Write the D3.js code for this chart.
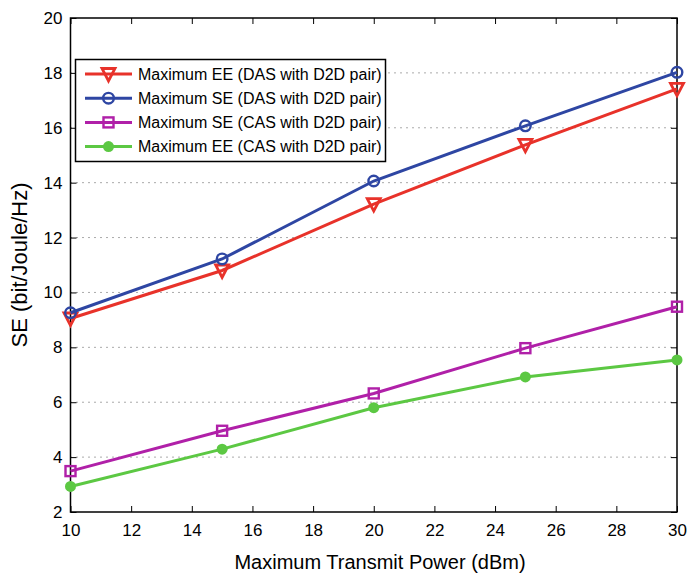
<!DOCTYPE html>
<html><head><meta charset="utf-8">
<script src="https://cdn.jsdelivr.net/npm/d3@7"></script>
<style>body{margin:0;background:#fff}svg{display:block}text{font-family:"Liberation Sans",Arial,sans-serif}</style>
</head><body><svg id="c" width="687" height="573"></svg>
<script>
const powers = [10, 15, 20, 25, 30];
const eeDAS = [9.05, 10.8, 13.22, 15.38, 17.42];
const seDAS = [9.26, 11.22, 14.06, 16.07, 18.02];
const seCAS = [3.49, 4.96, 6.32, 7.97, 9.48];
const eeCAS = [2.93, 4.29, 5.8, 6.92, 7.54];
const seriesNames = ["Maximum EE (DAS with D2D pair)","Maximum SE (DAS with D2D pair)","Maximum SE (CAS with D2D pair)","Maximum EE (CAS with D2D pair)"];
const xTicks = [10,12,14,16,18,20,22,24,26,28,30];
const yTicks = [2,4,6,8,10,12,14,16,18,20];

const series = [
  {name: seriesNames[0], vals: eeDAS, color: "#e8322a", marker: "tri"},
  {name: seriesNames[1], vals: seDAS, color: "#2e46a3", marker: "circ"},
  {name: seriesNames[2], vals: seCAS, color: "#b020a8", marker: "sq"},
  {name: seriesNames[3], vals: eeCAS, color: "#5cc843", marker: "dot"}
];

const svg = d3.select("#c");
const L = 70.5, R = 677, T = 18, B = 512;
const x = d3.scaleLinear().domain([10,30]).range([L,R]);
const y = d3.scaleLinear().domain([2,20]).range([B,T]);

// grid
svg.append("g").selectAll("line").data(yTicks.slice(1,-1)).join("line")
  .attr("x1",L).attr("x2",R).attr("y1",d=>y(d)).attr("y2",d=>y(d))
  .attr("stroke","#555").attr("stroke-width",1).attr("stroke-dasharray","1,5");

// axes
const tl = 6;
svg.append("g").attr("transform",`translate(0,${B})`)
  .call(d3.axisBottom(x).tickValues(xTicks).tickSizeInner(-tl).tickSizeOuter(0).tickPadding(12))
  .call(g=>g.select(".domain").remove())
  .call(g=>g.selectAll("text").attr("font-size",17).attr("fill","#000"));
svg.append("g").attr("transform",`translate(0,${T})`)
  .call(d3.axisTop(x).tickValues(xTicks).tickSizeInner(-tl).tickSizeOuter(0).tickFormat(""))
  .call(g=>g.select(".domain").remove());
svg.append("g").attr("transform",`translate(${L},0)`)
  .call(d3.axisLeft(y).tickValues(yTicks).tickSizeInner(-tl).tickSizeOuter(0).tickPadding(8))
  .call(g=>g.select(".domain").remove())
  .call(g=>g.selectAll("text").attr("font-size",17).attr("fill","#000"));
svg.append("g").attr("transform",`translate(${R},0)`)
  .call(d3.axisRight(y).tickValues(yTicks).tickSizeInner(-tl).tickSizeOuter(0).tickFormat(""))
  .call(g=>g.select(".domain").remove());
svg.selectAll(".tick line").attr("stroke","#000");
svg.append("rect").attr("x",L).attr("y",T).attr("width",R-L).attr("height",B-T)
  .attr("fill","none").attr("stroke","#000").attr("stroke-width",1.5);

// lines
const line = d3.line().x((d,i)=>x(powers[i])).y(d=>y(d));
function drawMarker(g, type, color, cx, cy){
  if(type==="tri"){
    g.append("path").attr("d",`M${cx-6.5},${cy-5.5}L${cx+6.5},${cy-5.5}L${cx},${cy+7}Z`)
      .attr("fill","none").attr("stroke",color).attr("stroke-width",2.8).attr("stroke-linejoin","miter");
  } else if(type==="circ"){
    g.append("circle").attr("cx",cx).attr("cy",cy).attr("r",5.3).attr("fill","none").attr("stroke",color).attr("stroke-width",2.4);
  } else if(type==="sq"){
    g.append("rect").attr("x",cx-5).attr("y",cy-5).attr("width",10).attr("height",10).attr("fill","none").attr("stroke",color).attr("stroke-width",2.4);
  } else {
    g.append("circle").attr("cx",cx).attr("cy",cy).attr("r",5.5).attr("fill",color);
  }
}
series.forEach(s=>{
  svg.append("path").datum(s.vals).attr("d",line).attr("fill","none").attr("stroke",s.color).attr("stroke-width",3);
  const g = svg.append("g");
  s.vals.forEach((v,i)=>drawMarker(g,s.marker,s.color,x(powers[i]),y(v)));
});

// legend
const lg = svg.append("g");
lg.append("rect").attr("x",75.5).attr("y",59.5).attr("width",310).attr("height",102)
  .attr("fill","#fff").attr("stroke","#000").attr("stroke-width",1.5);
series.forEach((s,i)=>{
  const cy = 74 + i*24.2;
  lg.append("line").attr("x1",85).attr("x2",132).attr("y1",cy).attr("y2",cy).attr("stroke",s.color).attr("stroke-width",3);
  drawMarker(lg,s.marker,s.color,108.5,cy);
  lg.append("text").attr("x",138).attr("y",cy+5.5).attr("font-size",16).attr("fill","#000").text(s.name);
});

// titles
svg.append("text").attr("x",380).attr("y",569).attr("text-anchor","middle").attr("font-size",20).text("Maximum Transmit Power (dBm)");
svg.append("text").attr("transform",`translate(27,${(T+B)/2}) rotate(-90)`).attr("text-anchor","middle").attr("font-size",22).text("SE (bit/Joule/Hz)");
</script></body></html>
